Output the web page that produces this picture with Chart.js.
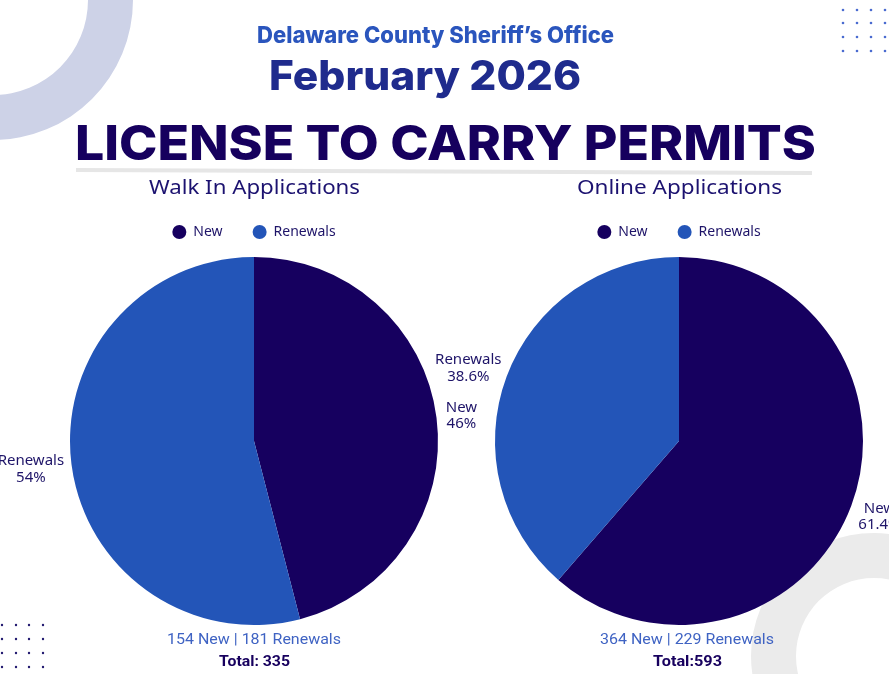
<!DOCTYPE html>
<html>
<head>
<meta charset="utf-8">
<script src="https://cdn.jsdelivr.net/npm/chart.js@4.4.0/dist/chart.umd.min.js"></script>
<style>
html,body{margin:0;padding:0;width:889px;height:674px;overflow:hidden;background:#fff;}
body{position:relative;}
#bg{position:absolute;left:0;top:0;z-index:0;}
.cv{position:absolute;z-index:2;}
.tx{position:absolute;white-space:nowrap;line-height:1;z-index:3;left:0;top:0;}
#hDel{font-family:Inter,"Noto Sans",sans-serif;font-weight:800;font-size:23px;color:#2A55BD;}
#hFeb{font-family:Inter,"Noto Sans",sans-serif;font-weight:800;font-size:40.5px;color:#1F2B8D;}
#hLic{font-family:Inter,"Noto Sans",sans-serif;font-weight:800;font-size:48px;color:#16005E;}
.sub{font-family:"Noto Sans",sans-serif;font-size:20px;color:#1C1270;}
.cnt{font-family:Roboto,"Noto Sans",sans-serif;font-size:15px;color:#3F63C3;}
.tot{font-family:Roboto,"Noto Sans",sans-serif;font-weight:700;font-size:15px;color:#17005E;}
</style>
</head>
<body>
<canvas id="bg" width="889" height="674"></canvas>
<div class="tx" id="hDel">Delaware County Sheriff’s Office</div>
<div class="tx" id="hFeb">February 2026</div>
<div class="tx" id="hLic">LICENSE TO CARRY PERMITS</div>
<div class="tx sub" id="subL">Walk In Applications</div>
<div class="tx sub" id="subR">Online Applications</div>
<canvas class="cv" id="pieL" width="508" height="438" style="left:0px;top:195px;"></canvas>
<canvas class="cv" id="pieR" width="508" height="438" style="left:425px;top:195px;"></canvas>
<div class="tx cnt" id="cntL"></div>
<div class="tx tot" id="totL"></div>
<div class="tx cnt" id="cntR"></div>
<div class="tx tot" id="totR"></div>
<script>
// ---- data ----
const sliceLabels = ['New', 'Renewals'];
const walkInValues = [154, 181];
const onlineValues = [364, 229];
const chartTitles = ['Walk In Applications', 'Online Applications'];

// ---- styles ----
const NEW_C = '#16005F';
const REN_C = '#2355B8';
const TXT_C = '#1E1468';

// background decorations
(function drawBg(){
  const c = document.getElementById('bg').getContext('2d');
  c.fillStyle = '#CDD2E7';
  c.beginPath();
  c.arc(-7, 0, 140, 0, Math.PI*2);
  c.arc(-7, 0, 95, 0, Math.PI*2, true);
  c.fill();
  c.fillStyle = '#EBEBEB';
  c.beginPath();
  c.arc(874, 656, 123, 0, Math.PI*2);
  c.arc(874, 656, 78, 0, Math.PI*2, true);
  c.fill();
  c.fillStyle = '#E6E6E6';
  c.beginPath();
  c.moveTo(76, 168); c.lineTo(812, 171); c.lineTo(812, 175); c.lineTo(76, 172);
  c.closePath(); c.fill();
  c.fillStyle = '#4A6BD0';
  [843,857,871,885].forEach(x => [10,23,37,51].forEach(y => { c.beginPath(); c.arc(x, y, 1.3, 0, Math.PI*2); c.fill(); }));
  c.fillStyle = '#221A70';
  [2,16,29,43].forEach(x => [625,639,653,667].forEach(y => { c.beginPath(); c.arc(x, y, 1.2, 0, Math.PI*2); c.fill(); }));
})();

function pctText(values, i) {
  const total = values.reduce((a, b) => a + b, 0);
  return String(Math.round(values[i] / total * 1000) / 10) + '%';
}

const outsideLabels = {
  id: 'outsideLabels',
  afterDatasetsDraw(chart, args, opts) {
    const ctx = chart.ctx;
    const meta = chart.getDatasetMeta(0);
    const values = chart.data.datasets[0].data;
    ctx.save();
    ctx.font = opts.size + 'px ' + opts.family;
    ctx.fillStyle = opts.color;
    ctx.textAlign = 'center';
    ctx.textBaseline = 'middle';
    meta.data.forEach((arc, i) => {
      const p = arc.getProps(['x', 'y', 'startAngle', 'endAngle', 'outerRadius'], true);
      const mid = (p.startAngle + p.endAngle) / 2;
      const dx = Math.cos(mid), dy = Math.sin(mid);
      const lines = [chart.data.labels[i], pctText(values, i)];
      const w = Math.max(...lines.map(l => ctx.measureText(l).width));
      const h = lines.length * opts.lineHeight;
      const r = p.outerRadius + opts.offset;
      const cx = p.x + dx * r + dx * w / 2 * 0.9;
      const cy = p.y + dy * r + dy * h / 2 + 1.5;
      lines.forEach((l, j) => ctx.fillText(l, cx, cy - h / 2 + opts.lineHeight * (j + 0.5)));
    });
    ctx.restore();
  }
};

function makePie(id, values) {
  return new Chart(document.getElementById(id), {
    type: 'pie',
    data: {
      labels: sliceLabels,
      datasets: [{
        data: values,
        backgroundColor: [NEW_C, REN_C],
        borderWidth: 0,
        hoverOffset: 0,
        radius: 184,
        clip: false
      }]
    },
    options: {
      responsive: false,
      animation: false,
      layout: { padding: 0 },
      plugins: {
        legend: {
          position: 'top',
          labels: {
            usePointStyle: true,
            pointStyle: 'circle',
            pointStyleWidth: 14,
            boxHeight: 10,
            padding: 30,
            color: TXT_C,
            font: { family: 'Noto Sans', size: 14 }
          }
        },
        tooltip: { enabled: false },
        outsideLabels: { family: '"Noto Sans"', size: 15, lineHeight: 16.5, color: TXT_C, offset: 11 }
      }
    },
    plugins: [outsideLabels]
  });
}

makePie('pieL', walkInValues);
makePie('pieR', onlineValues);

const sum = a => a.reduce((x, y) => x + y, 0);
document.getElementById('subL').textContent = chartTitles[0];
document.getElementById('subR').textContent = chartTitles[1];
document.getElementById('cntL').textContent = walkInValues[0] + ' New | ' + walkInValues[1] + ' Renewals';
document.getElementById('totL').textContent = 'Total: ' + sum(walkInValues);
document.getElementById('cntR').textContent = onlineValues[0] + ' New | ' + onlineValues[1] + ' Renewals';
document.getElementById('totR').textContent = 'Total:' + sum(onlineValues);

function place(id, cx, top, w) {
  const el = document.getElementById(id);
  el.style.top = top + 'px';
  el.style.left = '0px';
  el.style.transform = 'none';
  const nat = el.getBoundingClientRect().width;
  el.style.transformOrigin = '0 0';
  el.style.transform = 'scaleX(' + (w / nat) + ')';
  el.style.left = (cx - w / 2) + 'px';
}
place('hDel', 435.5, 23.6, 357);
place('hFeb', 425, 56.2, 312);
place('hLic', 445.5, 118.5, 741);
place('subL', 254.5, 176.5, 211);
place('subR', 679.5, 176.5, 205);
place('cntL', 254, 632, 174);
place('totL', 254, 653.5, 71);
place('cntR', 687, 632, 174);
place('totR', 687.5, 653.5, 69);
</script>
</body>
</html>
